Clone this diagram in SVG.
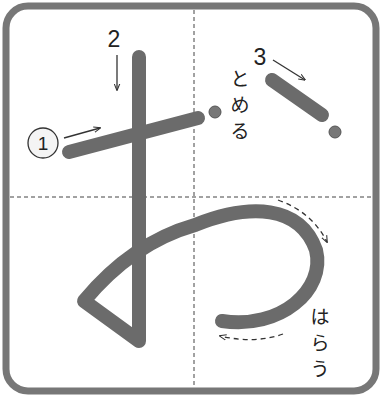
<svg xmlns="http://www.w3.org/2000/svg" width="383" height="402" viewBox="0 0 383 402">
<style>
.brush{fill:none;stroke:#6b6b6b;stroke-width:14;stroke-linecap:round;stroke-linejoin:round}
.guide{fill:none;stroke:#444;stroke-width:1;stroke-dasharray:4 3}
.arr{fill:none;stroke:#333;stroke-width:1.3}
.darr{fill:none;stroke:#333;stroke-width:1.3;stroke-dasharray:5 4}
.lbl{font-family:"Liberation Sans",Arial,sans-serif;font-size:23px;fill:#222}
.jp{font-family:"Noto Sans CJK JP","Noto Sans",sans-serif;fill:#222}
.dot{fill:#777;stroke:#555;stroke-width:1}
</style>
<defs>
<marker id="ah" viewBox="0 0 10 10" refX="9" refY="5" markerWidth="7" markerHeight="7" orient="auto" markerUnits="userSpaceOnUse">
<path d="M0,1 L10,5 L0,9" fill="none" stroke="#333" stroke-width="1.5"/>
</marker>
</defs>
<rect x="0" y="0" width="383" height="402" fill="#fff"/>
<g id="frame">
<rect x="6" y="6" width="370" height="385" rx="22" fill="none" stroke="#777" stroke-width="7"/>
</g>
<g id="guides">
<line class="guide" x1="194" y1="10" x2="194" y2="388"/>
<line class="guide" x1="10" y1="197" x2="373" y2="197"/>
</g>
<g id="stroke1">
<path class="brush" d="M69,152 L198,118"/>
<circle class="dot" cx="215" cy="112" r="6"/>
</g>
<g id="stroke2">
<path class="brush" d="M139,57 L139,341 L84,301 Q132,243 195,225 C250,203 300,205 316,250 C326,290 280,330 222,321"/>
</g>
<g id="stroke3">
<path class="brush" d="M272,80 L322,115"/>
<circle class="dot" cx="335" cy="132" r="6"/>
</g>
<g id="connectors">
<path class="arr" d="M64,138 L100,128" marker-end="url(#ah)"/>
<path class="arr" d="M117,55 L117,90" marker-end="url(#ah)"/>
<path class="arr" d="M273,60 L305,80" marker-end="url(#ah)"/>
<path class="darr" d="M278,200 Q312,212 327,242" marker-end="url(#ah)"/>
<path class="darr" d="M283,334 Q255,344 220,336" marker-end="url(#ah)"/>
</g>
<g id="labels">
<circle cx="43" cy="143" r="15" fill="#f4f4f4" stroke="#333" stroke-width="1.3"/>
<text x="43" y="150" text-anchor="middle" font-family="Liberation Sans,Arial,sans-serif" font-size="19" fill="#222">1</text>
<text class="lbl" x="114" y="47" text-anchor="middle">2</text>
<text class="lbl" x="260" y="65" text-anchor="middle">3</text>
<g class="jp" font-size="19" text-anchor="middle">
<text x="240" y="86">と</text>
<text x="240" y="112">め</text>
<text x="240" y="138">る</text>
</g>
<g class="jp" font-size="19" text-anchor="middle">
<text x="320" y="324">は</text>
<text x="320" y="350">ら</text>
<text x="320" y="376">う</text>
</g>
</g>
</svg>
